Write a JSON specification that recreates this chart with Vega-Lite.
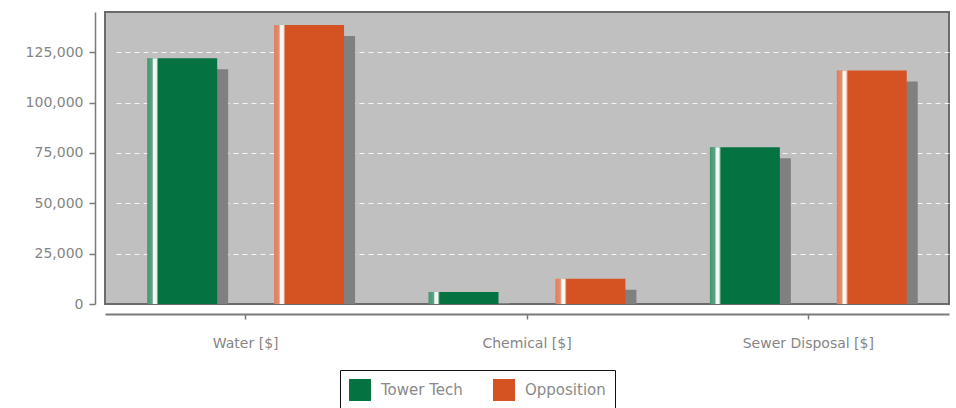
{
  "$schema": "https://vega.github.io/schema/vega-lite/v6.json",
  "width": 844,
  "height": 292,
  "autosize": {"type": "none"},
  "padding": {"left": 105, "top": 12, "right": 7, "bottom": 104},
  "background": "white",
  "config": {
    "font": "DejaVu Sans",
    "view": {"fill": "#c0c0c0", "stroke": "#6b6b6b", "strokeWidth": 2}
  },
  "data": {
    "values": [
      {"category": "Water [$]", "series": "Tower Tech", "value": 122000},
      {"category": "Water [$]", "series": "Opposition", "value": 138500},
      {"category": "Chemical [$]", "series": "Tower Tech", "value": 6000},
      {"category": "Chemical [$]", "series": "Opposition", "value": 12500},
      {"category": "Sewer Disposal [$]", "series": "Tower Tech", "value": 77800},
      {"category": "Sewer Disposal [$]", "series": "Opposition", "value": 116000}
    ]
  },
  "encoding": {
    "x": {
      "field": "category",
      "type": "nominal",
      "sort": ["Water [$]", "Chemical [$]", "Sewer Disposal [$]"],
      "scale": {"paddingInner": 0, "paddingOuter": 0},
      "title": null,
      "axis": {
        "labelAngle": 0,
        "offset": 10,
        "domainColor": "#7a7a7a",
        "domainWidth": 2,
        "tickColor": "#7a7a7a",
        "tickSize": 5,
        "tickWidth": 1.5,
        "labelColor": "#858585",
        "labelFontSize": 14,
        "labelPadding": 17
      }
    },
    "xOffset": {
      "field": "series",
      "type": "nominal",
      "sort": ["Tower Tech", "Opposition"],
      "scale": {"paddingInner": 0.449, "paddingOuter": 0.333}
    },
    "y": {
      "field": "value",
      "type": "quantitative",
      "scale": {"domain": [0, 145000], "nice": false},
      "title": null,
      "axis": {
        "values": [0, 25000, 50000, 75000, 100000, 125000],
        "format": ",d",
        "offset": 10,
        "domainColor": "#7a7a7a",
        "domainWidth": 1.5,
        "tickColor": "#7a7a7a",
        "tickSize": 6,
        "tickWidth": 1.5,
        "labelColor": "#858585",
        "labelFontSize": 14,
        "labelPadding": 6,
        "grid": true,
        "gridColor": "white",
        "gridDash": [5, 4],
        "gridOpacity": {"condition": {"test": "datum.value === 0", "value": 0}, "value": 0.85}
      }
    }
  },
  "layer": [
    {
      "mark": {"type": "bar", "color": "#808080", "yOffset": 11, "y2Offset": 11, "clip": true},
      "encoding": {
        "x": {
          "field": "category",
          "type": "nominal",
          "sort": ["Water [$]", "Chemical [$]", "Sewer Disposal [$]"],
          "scale": {"paddingInner": 0, "paddingOuter": 0, "range": [11, 855]},
          "axis": null
        }
      }
    },
    {
      "layer": [
        {
          "mark": {"type": "bar"},
          "encoding": {
            "color": {
              "field": "series",
              "type": "nominal",
              "sort": ["Tower Tech", "Opposition"],
              "scale": {"domain": ["Tower Tech", "Opposition"], "range": ["#057341", "#d55322"]},
              "legend": {
                "title": null,
                "orient": "none",
                "direction": "horizontal",
                "legendX": 235,
                "legendY": 358,
                "strokeColor": "#111111",
                "padding": 9,
                "symbolType": "square",
                "symbolSize": 484,
                "symbolStrokeWidth": 0,
                "symbolOpacity": 1,
                "labelFontSize": 15,
                "labelColor": "#8a8a8a",
                "labelOffset": 10,
                "columnPadding": 30
              }
            }
          }
        },
        {
          "mark": {
            "type": "bar",
            "color": {
              "gradient": "linear",
              "x1": 0, "x2": 1, "y1": 0, "y2": 0,
              "stops": [
                {"offset": 0, "color": "rgba(255,255,255,0.25)"},
                {"offset": 0.07, "color": "rgba(255,255,255,0.35)"},
                {"offset": 0.09, "color": "rgba(255,255,255,0.95)"},
                {"offset": 0.13, "color": "rgba(255,255,255,0.95)"},
                {"offset": 0.16, "color": "rgba(255,255,255,0)"},
                {"offset": 1, "color": "rgba(255,255,255,0)"}
              ]
            }
          }
        }
      ]
    }
  ],
  "resolve": {"scale": {"x": "independent"}}
}
